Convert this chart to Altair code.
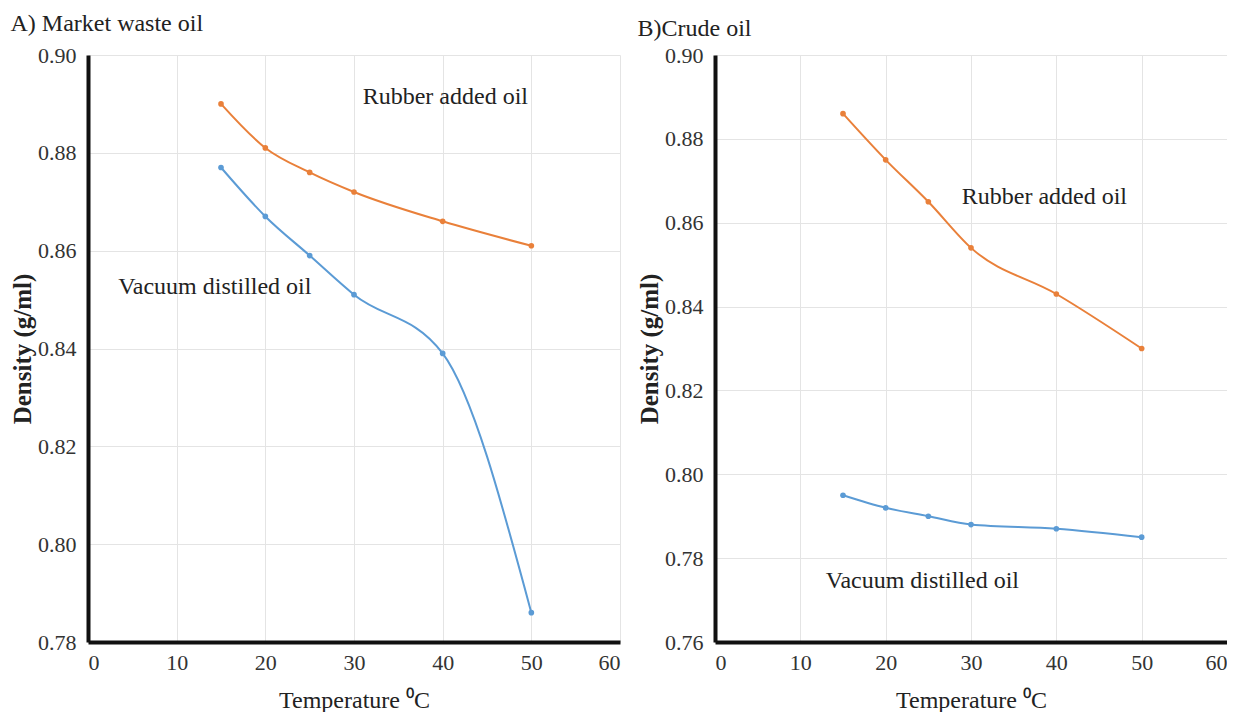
import altair as alt
import pandas as pd

temps = [15, 20, 25, 30, 40, 50]
a_rubber = [0.890, 0.881, 0.876, 0.872, 0.866, 0.861]
a_vacuum = [0.877, 0.867, 0.859, 0.851, 0.839, 0.786]
b_rubber = [0.886, 0.875, 0.865, 0.854, 0.843, 0.830]
b_vacuum = [0.795, 0.792, 0.790, 0.788, 0.787, 0.785]

series_names = ["Rubber added oil", "Vacuum distilled oil"]
series_colors = ["#E9803A", "#5B9BD5"]
panel_titles = ["A) Market waste oil", "B)Crude oil"]

x_ticks = [0, 10, 20, 30, 40, 50, 60]
a_y_ticks = [0.78, 0.80, 0.82, 0.84, 0.86, 0.88, 0.90]
b_y_ticks = [0.76, 0.78, 0.80, 0.82, 0.84, 0.86, 0.88, 0.90]

a_label_x = [40.3, 14.3]
a_label_y = [0.8915, 0.8525]
b_label_x = [38.6, 24.3]
b_label_y = [0.8662, 0.7745]

FONT = "Liberation Serif"


def make_panel(title, rubber, vacuum, y_ticks, label_x, label_y, width, height, title_dy):
    df = pd.DataFrame({
        "temp": temps * 2,
        "density": rubber + vacuum,
        "series": [series_names[0]] * len(temps) + [series_names[1]] * len(temps),
    })
    labels = pd.DataFrame({"x": label_x, "y": label_y, "text": series_names})
    xenc = alt.X("temp:Q", title="Temperature \u2070C",
                 scale=alt.Scale(domain=[0, 60], nice=False, zero=False),
                 axis=alt.Axis(values=x_ticks, format="d"))
    yenc = alt.Y("density:Q", title="Density (g/ml)",
                 scale=alt.Scale(domain=[y_ticks[0], y_ticks[-1]], nice=False, zero=False),
                 axis=alt.Axis(values=y_ticks, format=".2f", titleFontWeight="bold",
                               titleFontSize=25))
    color = alt.Color("series:N", legend=None,
                      scale=alt.Scale(domain=series_names, range=series_colors))
    base = alt.Chart(df)
    line = base.mark_line(interpolate="monotone", strokeWidth=2).encode(x=xenc, y=yenc, color=color)
    pts = base.mark_circle(size=32, opacity=1).encode(x=xenc, y=yenc, color=color)
    txt = alt.Chart(labels).mark_text(font=FONT, fontSize=24, color="#222").encode(
        x=alt.X("x:Q"), y=alt.Y("y:Q"), text="text:N")
    return alt.layer(line, pts, txt).properties(
        width=width, height=height,
        title=alt.TitleParams(title, anchor="start", frame="bounds", font=FONT,
                              fontSize=24, fontWeight="normal", color="#222",
                              offset=8, dy=title_dy),
    )


left = make_panel(panel_titles[0], a_rubber, a_vacuum, a_y_ticks, a_label_x, a_label_y, 532, 587, 0)
right = make_panel(panel_titles[1], b_rubber, b_vacuum, b_y_ticks, b_label_x, b_label_y, 512, 587, 5)

chart = alt.hconcat(left, right, spacing=17).properties(
    padding={"left": 2, "top": 4, "right": 0, "bottom": 0}
).configure_view(stroke=None).configure_axis(
    domainColor="#111", domainWidth=4, ticks=False,
    gridColor="#e4e4e4", gridWidth=1,
    labelFont=FONT, labelFontSize=22, labelColor="#333", labelPadding=10,
    titleFont=FONT, titleFontSize=24, titleColor="#222", titleFontWeight="normal", titlePadding=15,
).configure_axisY(labelPadding=12, titlePadding=2)

chart.save("out.html", embed_options={"renderer": "svg", "actions": False})
